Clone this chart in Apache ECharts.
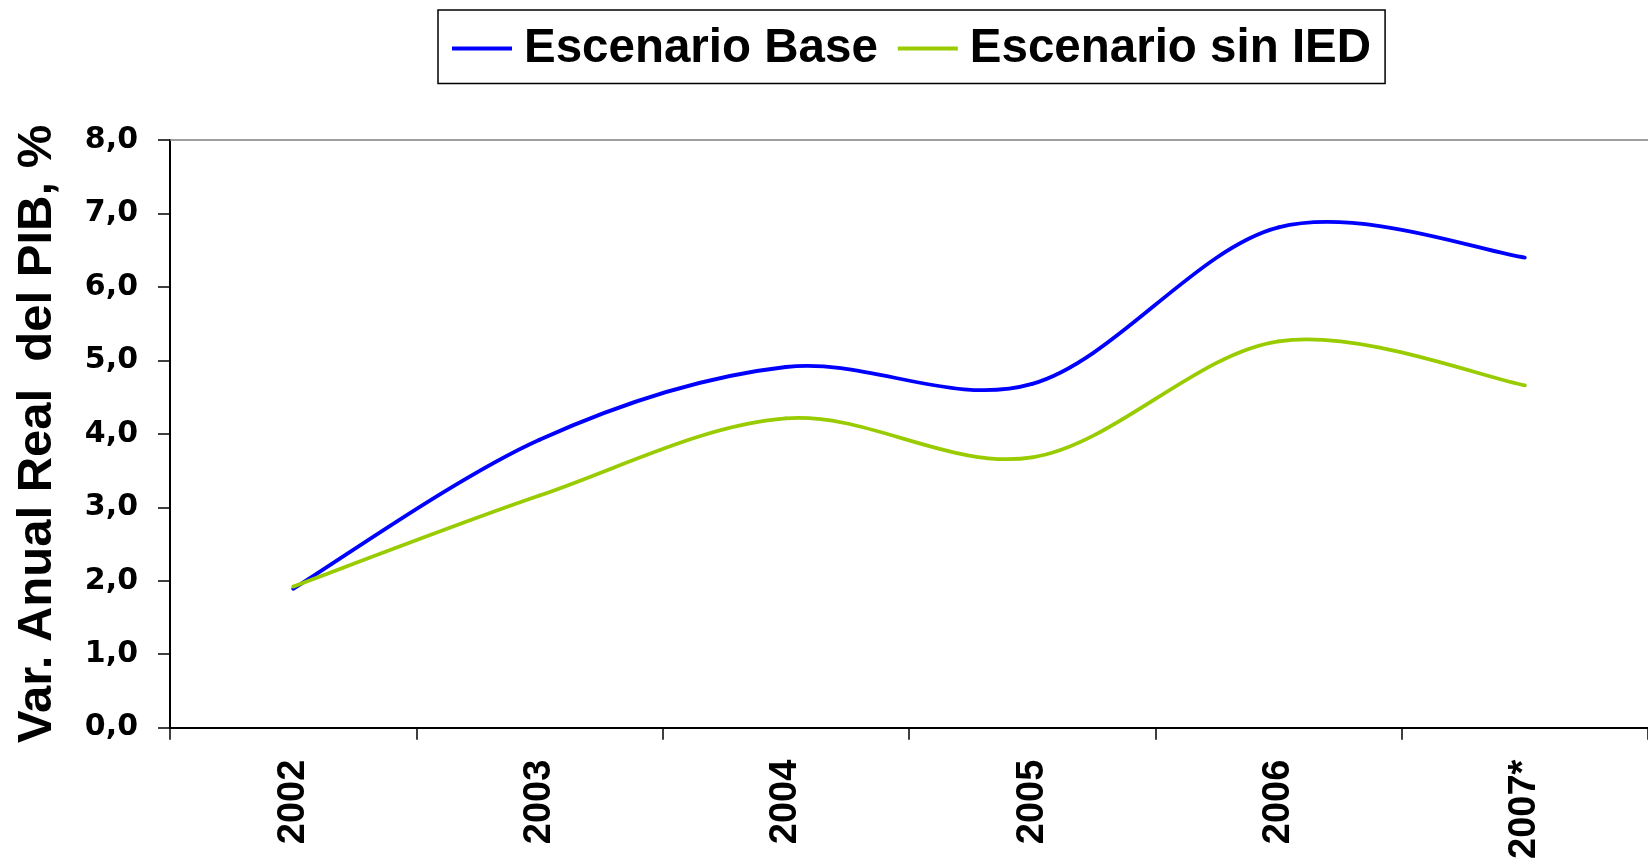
<!DOCTYPE html>
<html>
<head>
<meta charset="utf-8">
<script src="https://cdn.jsdelivr.net/npm/echarts@6/dist/echarts.min.js"></script>
<style>
html,body{margin:0;padding:0;background:#fff;}
#chart{width:1648px;height:862px;}
</style>
</head>
<body>
<div id="chart"></div>
<script>
const categories = ['2002', '2003', '2004', '2005', '2006', '2007*'];
const baseValues = [1.89, 3.92, 4.91, 4.68, 6.81, 6.40];
const sinIedValues = [1.92, 3.16, 4.21, 3.68, 5.26, 4.66];
const seriesNames = ['Escenario Base', 'Escenario sin IED'];
const seriesColors = ['#0000FF', '#99CC00'];
const yAxisTitle = 'Var. Anual Real  del PIB, %';

const allValues = [baseValues, sinIedValues];

// Excel-style smoothed line: cubic Bezier segments with Catmull-Rom (1/6) control points,
// every point placed through the chart's own coordinate system.
function makeRenderItem(values) {
  const n = values.length;
  return function (params, api) {
    const i = params.dataIndex;
    if (i >= n - 1) return null;
    const idx = k => Math.max(0, Math.min(n - 1, k));
    const p0 = api.coord([idx(i - 1), values[idx(i - 1)]]);
    const p1 = api.coord([i, values[i]]);
    const p2 = api.coord([i + 1, values[i + 1]]);
    const p3 = api.coord([idx(i + 2), values[idx(i + 2)]]);
    return {
      type: 'bezierCurve',
      shape: {
        x1: p1[0], y1: p1[1],
        cpx1: p1[0] + (p2[0] - p0[0]) / 6, cpy1: p1[1] + (p2[1] - p0[1]) / 6,
        cpx2: p2[0] - (p3[0] - p1[0]) / 6, cpy2: p2[1] - (p3[1] - p1[1]) / 6,
        x2: p2[0], y2: p2[1]
      },
      style: {stroke: api.visual('color'), lineWidth: 3.8, fill: null, lineCap: 'round', lineJoin: 'round'},
      silent: true
    };
  };
}

const chart = echarts.init(document.getElementById('chart'), null, {renderer: 'canvas'});
const font = 'Liberation Sans, Arial, sans-serif';
chart.setOption({
  animation: false,
  backgroundColor: '#ffffff',
  legend: {
    left: 438, top: 10,
    itemWidth: 60, itemHeight: 4, itemGap: 20,
    padding: [14.5, 14, 11, 14],
    borderColor: '#000', borderWidth: 1.5,
    textStyle: {fontSize: 47.5, fontWeight: 'bold', color: '#000', fontFamily: font, padding: [0, 0, 0, 7]},
    data: seriesNames.map(n => ({name: n, icon: 'rect'}))
  },
  grid: {left: 170, right: -12, top: 140, bottom: 133.5, containLabel: false},
  xAxis: [{
    type: 'category', data: categories, boundaryGap: true,
    axisLine: {show: true, lineStyle: {color: '#000', width: 2}},
    axisTick: {show: true, length: 12, lineStyle: {color: '#000', width: 1.5}},
    axisLabel: {rotate: 90, fontSize: 38, fontWeight: 'bold', color: '#000', fontFamily: font, margin: 32},
    splitLine: {show: false}
  }, {
    type: 'category', data: categories, position: 'top', boundaryGap: true,
    axisLine: {show: true, lineStyle: {color: '#808080', width: 1.5}},
    axisTick: {show: false}, axisLabel: {show: false}, splitLine: {show: false}
  }],
  yAxis: {
    type: 'value', min: 0, max: 8, interval: 1,
    name: yAxisTitle, nameLocation: 'middle', nameRotate: 90, nameGap: 108,
    nameTextStyle: {fontSize: 49, fontWeight: 'bold', color: '#000', fontFamily: font},
    axisLine: {show: true, lineStyle: {color: '#000', width: 2}},
    axisTick: {show: true, length: 12, lineStyle: {color: '#000', width: 1.5}},
    axisLabel: {fontSize: 30, fontWeight: 'bold', color: '#000', fontFamily: 'DejaVu Sans, sans-serif', margin: 32,
      formatter: v => v.toFixed(1).replace('.', ',')},
    splitLine: {show: false}
  },
  series: allValues.map((vals, s) => ({
    name: seriesNames[s], type: 'custom', xAxisIndex: 0, yAxisIndex: 0,
    data: vals.map((v, i) => [i, v]),
    encode: {x: 0, y: 1},
    itemStyle: {color: seriesColors[s]},
    renderItem: makeRenderItem(vals),
    clip: false
  }))
});
</script>
</body>
</html>
